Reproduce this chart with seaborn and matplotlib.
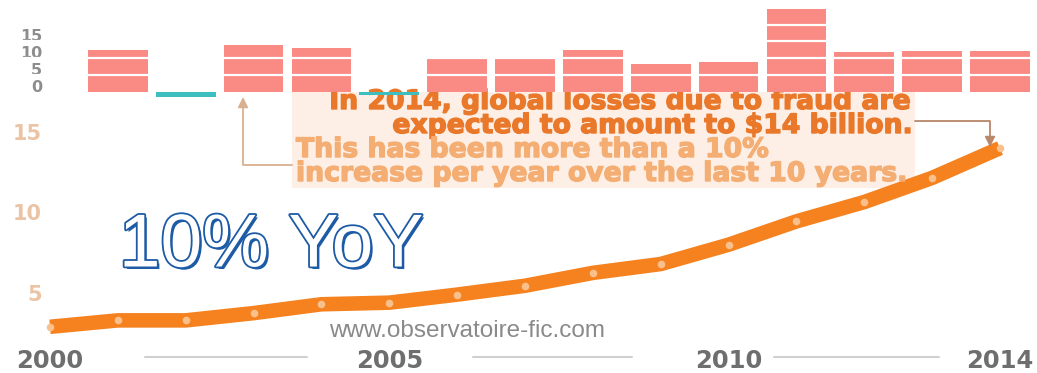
import numpy as np
import pandas as pd
import matplotlib
matplotlib.use("Agg")
import matplotlib.pyplot as plt
import matplotlib.patheffects as pe
from matplotlib.patches import FancyArrowPatch, Rectangle
from matplotlib.path import Path
import seaborn as sns

# Global losses due to fraud, USD billions
years = [2000, 2001, 2002, 2003, 2004, 2005, 2006, 2007,
         2008, 2009, 2010, 2011, 2012, 2013, 2014]
losses = [2.9, 3.3, 3.3, 3.75, 4.3, 4.4, 4.9, 5.45,
          6.25, 6.8, 8.0, 9.45, 10.65, 12.15, 14.0]

# Year-over-year change, %
growth_years = [2001, 2002, 2003, 2004, 2005, 2006, 2007,
                2008, 2009, 2010, 2011, 2012, 2013, 2014]
growth = [12.4, -1.6, 13.9, 13.0, -1.0, 10.0, 10.0,
          12.4, 8.2, 8.8, 24.6, 11.8, 12.1, 12.1]

x_tick_years = [2000, 2005, 2010, 2014]
loss_ticks = [5, 10, 15]
growth_ticks = [0, 5, 10, 15]
growth_bands = [5, 10, 15, 20]

W, H, DPI = 1037, 373, 100
sns.set_theme(style="white")
plt.rcParams["font.family"] = ["DejaVu Sans"]

ORANGE = "#F5821F"
DOT = "#FAC08C"
SALMON = "#F98A84"
TEAL = "#3DBFC0"
BLUE = "#1D5BA6"

fig = plt.figure(figsize=(W / DPI, H / DPI), dpi=DPI, facecolor="white")


def fx(px):
    return px / W


def fy(py):
    return 1 - py / H


ax = fig.add_axes([0, fy(345), 1, 345 / H])
ax_top = fig.add_axes([0, fy(100), 1, 100 / H])
for a in (ax, ax_top):
    a.set_facecolor("none")
    for s in a.spines.values():
        s.set_visible(False)

xlim = (2000 - 50 / 67.86, 2014 + 37 / 67.86)

# --- growth bars -------------------------------------------------------
bars = pd.DataFrame({"year": growth_years, "growth": growth})
bars["sign"] = np.where(bars["growth"] >= 0, "up", "down")
sns.barplot(data=bars, x="year", y="growth", hue="sign",
            palette={"up": SALMON, "down": TEAL}, native_scale=True,
            dodge=False, width=0.88, legend=False, saturation=1,
            linewidth=0, ax=ax_top)
for v in growth_bands:
    ax_top.axhline(v, color="white", lw=1.6, zorder=3)
ax_top.set_xlim(*xlim)
ax_top.set_ylim(-8.5 / 3.35, 91.5 / 3.35)
ax_top.set_xticks([])
ax_top.set_yticks(growth_ticks)
ax_top.set_yticklabels([str(t) for t in growth_ticks], fontsize=11.5,
                       fontweight="bold", color="#8d8d8d")
for lab in ax_top.get_yticklabels():
    lab.set_va("baseline")
ax_top.tick_params(axis="y", length=0, pad=-30.5)
ax_top.set_xlabel("")
ax_top.set_ylabel("")

# --- loss curve --------------------------------------------------------
sns.lineplot(x=years, y=losses, color=ORANGE, linewidth=10.5,
             solid_capstyle="butt", solid_joinstyle="round", ax=ax, zorder=3)
sns.scatterplot(x=years, y=losses, color=DOT, s=30, linewidth=0,
                ax=ax, zorder=4)
ax.set_xlim(*xlim)
ax.set_ylim((373.5 - 345) / 16.1, 373.5 / 16.1)
ax.set_yticks(loss_ticks)
ax.set_yticklabels([str(t) for t in loss_ticks], fontsize=15,
                   fontweight="bold", color="#EBC4A6")
ax.tick_params(axis="y", length=0, pad=-30)
ax.set_xticks(x_tick_years)
ax.set_xticklabels([str(t) for t in x_tick_years], fontsize=17.5,
                   fontweight="bold", color="#6e6e6e")
ax.tick_params(axis="x", length=0, pad=3)
ax.set_xlabel("")
ax.set_ylabel("")

# separators between year labels
for a, b in [(2001.4, 2003.79), (2006.23, 2008.57), (2010.67, 2013.1)]:
    ax.plot([a, b], [-0.035, -0.035], transform=ax.get_xaxis_transform(),
            clip_on=False, color="#d0d0d0", lw=1.5)

# --- callout -----------------------------------------------------------
ax.add_patch(Rectangle((fx(292), fy(188)), fx(915) - fx(292), (188 - 92) / H,
                       transform=fig.transFigure, facecolor="#FDEFE5",
                       edgecolor="none", zorder=0.5))
DARK_TXT = "#E9782A"
LIGHT_TXT = "#F4AE73"
dark_txt = dict(fontsize=19.2, fontweight="bold", color=DARK_TXT,
                transform=fig.transFigure, va="center", zorder=5,
                path_effects=[pe.withStroke(linewidth=1.0,
                                            foreground=DARK_TXT)])
light_txt = dict(fontsize=19.2, fontweight="bold", color=LIGHT_TXT,
                 transform=fig.transFigure, va="center", zorder=5,
                 path_effects=[pe.withStroke(linewidth=1.0,
                                             foreground=LIGHT_TXT)])
ax.text(fx(910), fy(102), "In 2014, global losses due to fraud are",
        ha="right", **dark_txt)
ax.text(fx(912), fy(126), "expected to amount to $14 billion.",
        ha="right", **dark_txt)
ax.text(fx(296), fy(150), "This has been more than a 10%",
        ha="left", **light_txt)
ax.text(fx(296), fy(174), "increase per year over the last 10 years.",
        ha="left", **light_txt)


def elbow_arrow(points, color):
    verts = [(fx(x), fy(y)) for x, y in points]
    codes = [Path.MOVETO] + [Path.LINETO] * (len(verts) - 1)
    arr = FancyArrowPatch(path=Path(verts, codes),
                          arrowstyle="-|>,head_length=0.6,head_width=0.3",
                          mutation_scale=10, color=color, lw=1.3,
                          transform=fig.transFigure)
    fig.add_artist(arr)


elbow_arrow([(292, 165), (243, 165), (243, 97)], "#D9B090")
elbow_arrow([(915, 121), (990, 121), (990, 147)], "#B9876A")

# --- headline ----------------------------------------------------------
fig.text(fx(271), fy(247), "10% YoY", fontsize=54, family="Liberation Sans",
         color="white", ha="center", va="center",
         path_effects=[pe.SimplePatchShadow(offset=(1.8, -1.8),
                                            shadow_rgbFace=BLUE, alpha=1),
                       pe.Stroke(linewidth=2.6, foreground=BLUE),
                       pe.Normal()])

fig.text(fx(467), fy(331), "www.observatoire-fic.com", fontsize=17.5,
         family="Liberation Sans", color="#8A8A8A", ha="center", va="center")

fig.savefig("out.png", dpi=DPI, facecolor="white")
